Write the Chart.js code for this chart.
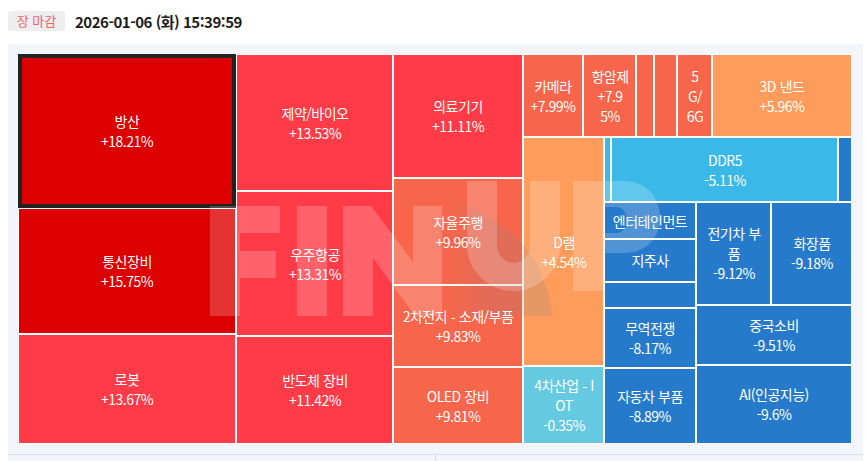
<!DOCTYPE html>
<html lang="ko">
<head>
<meta charset="utf-8">
<script src="https://cdn.jsdelivr.net/npm/chart.js@4/dist/chart.umd.js"></script>
<style>
html,body{margin:0;padding:0;width:866px;height:461px;overflow:hidden;background:#fff;font-family:"Noto Sans CJK KR","Noto Sans",sans-serif}
#panel{position:absolute;left:8px;top:44px;width:855px;height:417px;background:#f3f5fa}
#rule{position:absolute;left:8px;top:454px;width:855px;height:1px;background:#dcdde1}
#divider{position:absolute;left:435px;top:455px;width:1px;height:6px;background:#dcdde1}
#badge{position:absolute;left:8px;top:11px;width:57px;height:20px;line-height:20px;text-align:center;background:#eeeeee;border-radius:3px;color:#f0616b;font-size:13px}
#stamp{position:absolute;left:75px;top:10px;line-height:24px;font-size:15px;font-weight:700;color:#1c1c1e;letter-spacing:-.5px}
canvas{position:absolute;left:18px;top:54px}
</style>
</head>
<body>
<div id="panel"></div><div id="rule"></div><div id="divider"></div>
<div id="badge">장 마감</div>
<div id="stamp">2026-01-06 (화) 15:39:59</div>
<canvas id="c" width="834" height="390"></canvas>
<script>
// Sector names ('' = the source prints no label on that tile)
const names = ['방산','통신장비','로봇','제약/바이오','우주항공','반도체 장비','의료기기','자율주행','2차전지 - 소재/부품','OLED 장비',
  '카메라','항암제','','','5\nG/\n6G','3D 낸드','D램','4차산업 - I\nOT','','DDR5','',
  '엔터테인먼트','지주사','','무역전쟁','자동차 부품','전기차 부\n품','화장품','중국소비','AI(인공지능)'];
// Daily change, % (tiles without a printed value are estimated from their place in the ranking)
const changes = [18.21,15.75,13.67,13.53,13.31,11.42,11.11,9.96,9.83,9.81,
  7.99,7.95,7.9,7.8,7.5,5.96,4.54,-0.35,-4.9,-5.11,-6.5,
  -7.2,-7.5,-7.9,-8.17,-8.89,-9.12,-9.18,-9.51,-9.6];
// Tile weight
const weights = [33572,27468,23980,21509,22765,16956,16120,13910,10660,10010,
  4980,4399,1494,1909,2905,11620,18549,6318,455,14755,910,
  3404,3956,2392,5520,6992,7725,8343,9360,12324];
const selectedName = '방산';
const valueBreaks = {'항암제':4};

// Nesting of the tiles by index: h = side by side, v = stacked
const nesting = ['h',['v',0,1,2],['v',3,4,5],['v',6,7,8,9],
  ['v',['h',10,11,12,13,14,15],
       ['h',['v',16,17],
            ['v',['h',18,19,20],
                 ['h',['v',21,22,23,24,25],
                      ['v',['h',26,27],28,29]]]]]];

const weightOf = n => typeof n === 'number' ? weights[n] : n.slice(1).reduce((s,c)=>s+weightOf(c),0);
function layout(n,x0,y0,x1,y1,out){
  if (typeof n === 'number'){ out[n]={x0,y0,x1,y1,x:(x0+x1)/2,y:(y0+y1)/2}; return out; }
  const total = weightOf(n); let pos = n[0]==='h'?x0:y0;
  n.slice(1).forEach(c=>{
    const span = weightOf(c)/total*(n[0]==='h'?x1-x0:y1-y0);
    if (n[0]==='h') layout(c,pos,y0,pos+span,y1,out); else layout(c,x0,pos,x1,pos+span,out);
    pos += span;
  });
  return out;
}
const colorFor = v => v>=15?'#dc0000':v>=10?'#ff3b47':v>=7?'#f7654b':v>=0?'#ff9b5b':v>-1?'#65c9e1':v>-6?'#3ab9e9':'#267acc';
const fmt = v => (v>0?'+':'')+v+'%';

class CellController extends Chart.DatasetController {
  update(){ const m=this._cachedMeta; this.updateElements(m.data,0,m.data.length,'none'); }
  updateElements(els,start,count){
    const {xScale,yScale}=this._cachedMeta, data=this.getDataset().data;
    for(let i=start;i<start+count;i++){
      const d=data[i],l=xScale.getPixelForValue(d.x0),r=xScale.getPixelForValue(d.x1),t=yScale.getPixelForValue(d.y0),b=yScale.getPixelForValue(d.y1);
      const sel=names[i]===selectedName;
      this.updateElement(els[i],i,{x:(l+r)/2,y:t,base:b,width:r-l,height:b-t,horizontal:false,inflateAmount:0,borderSkipped:{},enableBorderRadius:false,
        options:{backgroundColor:colorFor(changes[i]),borderColor:sel?'#222222':'#ffffff',borderWidth:sel?4:1,borderRadius:0}},'none');
    }
  }
  draw(){ this._cachedMeta.data.forEach(e=>e.draw(this.chart.ctx)); }
}
CellController.id='cells';
CellController.defaults={dataElementType:'bar',datasetElementType:false};
Chart.register(CellController);

// Translucent FINUP watermark (page coordinates; the canvas starts at 18,54)
const wmLetters = new Path2D(
 'M210 206H280V233H240V251H276V278H240V316H210Z'+
 'M297 206H327V316H297Z'+
 'M343 206H371L413 262V206H442V316H415L373 258V316H343Z'+
 'M467 181H497V245A16.5 18 0 0 0 530 245V181H560V245A46.5 46 0 0 1 467 245Z'+
 'M573 181H624C646 181 660 197 660 217C660 238 646 253 624 253H603V291H573Z'+
 'M603 207V233H616C623 233 627 227 627 220C627 213 623 207 616 207Z');
const wmShadow = new Path2D('M442 316V196C470 200 510 228 530 253C543 272 550 295 552 316Z');
const bgPlugin = {id:'bg',beforeDraw(chart){
  const ctx=chart.ctx; ctx.save(); ctx.fillStyle='#fff'; ctx.fillRect(0,0,chart.width,chart.height); ctx.restore();
}};
const wmPlugin = {id:'wm',afterDatasetsDraw(chart){
  const ctx=chart.ctx; ctx.save(); ctx.translate(-18,-54);
  const g=ctx.createLinearGradient(442,0,495,0);
  g.addColorStop(0,'rgba(136,136,136,0)'); g.addColorStop(1,'rgba(136,136,136,.2)');
  ctx.fillStyle=g; ctx.fill(wmShadow);
  ctx.fillStyle='rgba(255,255,255,.2)'; ctx.fill(wmLetters,'evenodd');
  ctx.restore();
}};
const labelPlugin = {id:'labels',afterDraw(chart){
  const ctx=chart.ctx,{x:sx,y:sy}=chart.scales, data=chart.data.datasets[0].data;
  ctx.save(); ctx.fillStyle='#fff'; ctx.textAlign='center'; ctx.textBaseline='middle';
  ctx.font='14px "Noto Sans CJK KR"'; ctx.letterSpacing='-0.5px'; ctx.wordSpacing='1px';
  data.forEach((d,i)=>{
    if(!names[i]) return;
    const h=sy.getPixelForValue(d.y1)-sy.getPixelForValue(d.y0), cx=sx.getPixelForValue(d.x), cy=sy.getPixelForValue(d.y);
    let lines=names[i].split('\n');
    let val=fmt(changes[i]); const br=valueBreaks[names[i]];
    const vLines=br?[val.slice(0,br),val.slice(br)]:[val];
    if((lines.length+vLines.length)*20<=h-5) lines=lines.concat(vLines);
    lines.forEach((s,k)=>ctx.fillText(s,Math.round(cx),Math.round(cy+(k-(lines.length-1)/2)*20)+1));
  });
  ctx.restore();
}};

const canvas=document.getElementById('c');
canvas.getContext('2d',{alpha:false});
const rects = layout(nesting,0,0,1,1,[]);
new Chart(canvas,{
  type:'cells',
  data:{labels:names,datasets:[{data:rects}]},
  options:{responsive:false,devicePixelRatio:1,animation:false,parsing:false,
    layout:{padding:0},
    plugins:{legend:{display:false},tooltip:{enabled:false}},
    events:[],
    scales:{x:{type:'linear',min:0,max:1,display:false},y:{type:'linear',min:0,max:1,reverse:true,display:false}}},
  plugins:[bgPlugin,wmPlugin,labelPlugin]
});
</script>
</body>
</html>
